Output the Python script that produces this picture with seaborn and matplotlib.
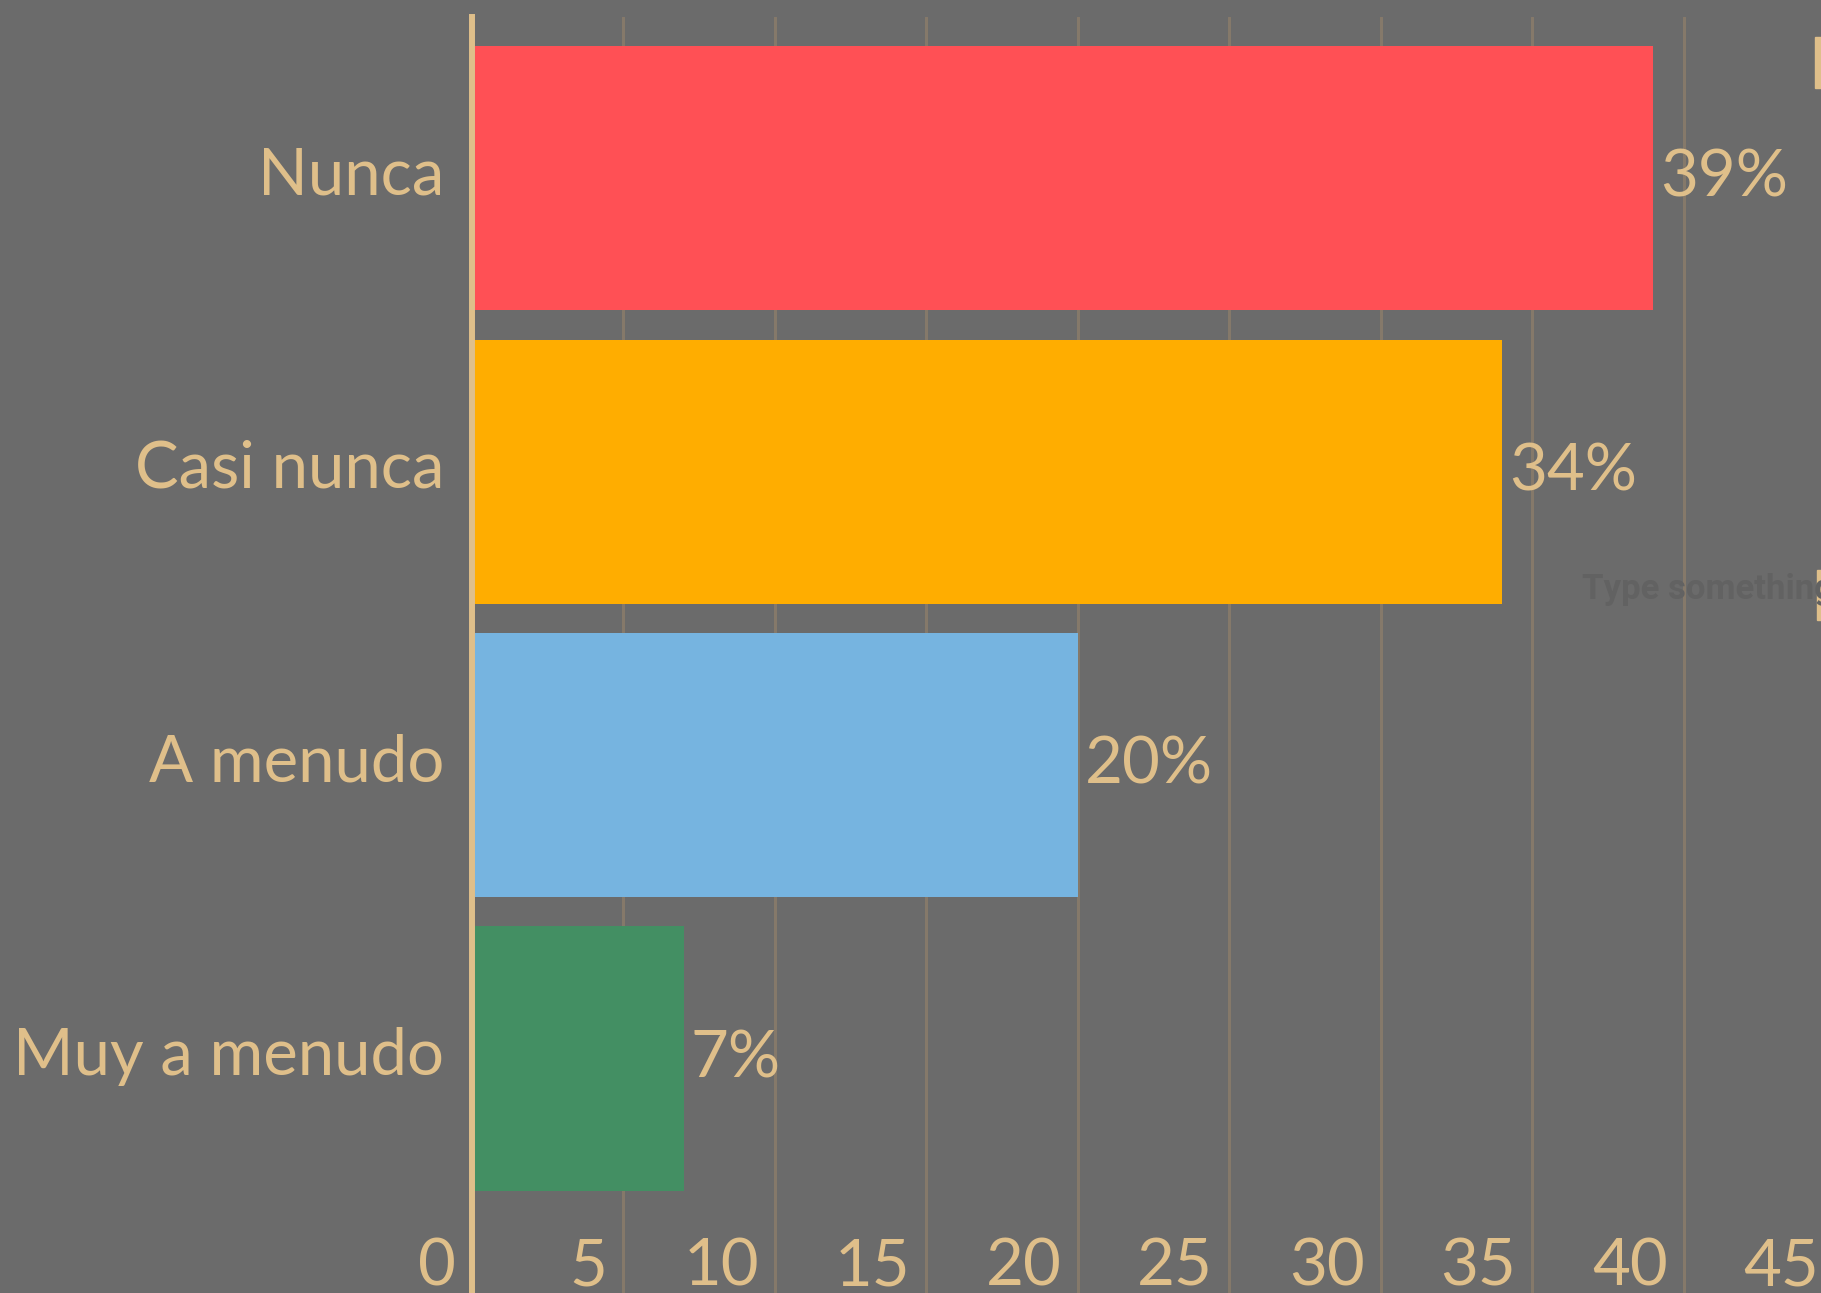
import matplotlib
matplotlib.use("Agg")
import matplotlib.pyplot as plt
from matplotlib.transforms import ScaledTranslation
from matplotlib.patches import Rectangle
import seaborn as sns
import pandas as pd

categories = ["Nunca", "Casi nunca", "A menudo", "Muy a menudo"]
values = [39, 34, 20, 7]
colors = ["#ff5055", "#ffad00", "#76b4e0", "#438f63"]
xticks = [0, 5, 10, 15, 20, 25, 30, 35, 40, 45]

BG = "#6b6b6b"
TAN = "#dfbf8a"
GRID = "#85796a"

sns.set_theme(style="white")
plt.rcParams["font.family"] = ["Lato", "DejaVu Sans"]

df = pd.DataFrame({"cat": categories, "val": values})

W, H = 1821, 1293
fig = plt.figure(figsize=(W / 100, H / 100), dpi=100, facecolor=BG)
ax_left = 472 / W
ax_width = (1835 - 472) / W
ax_top = 1 - 17 / H
ax = fig.add_axes([ax_left, 0, ax_width, ax_top])
ax.set_facecolor(BG)

sns.barplot(data=df, y="cat", x="val", hue="cat", palette=colors,
            order=categories, hue_order=categories, width=0.9,
            saturation=1, legend=False, ax=ax, zorder=3, linewidth=0,
            edgecolor="none")

ax.set_xlim(0, 45)
ax.set_ylim(3.799, -0.549)
ax.set_xticks(xticks)
ax.set_xticklabels([str(t) for t in xticks])
ax.set_xlabel("")
ax.set_ylabel("")

for s in ["top", "right", "bottom"]:
    ax.spines[s].set_visible(False)
ax.spines["left"].set_color(TAN)
ax.spines["left"].set_linewidth(4.3)
ax.spines["left"].set_zorder(4)

ax.grid(axis="x", color=GRID, linewidth=2.2, zorder=0)
ax.grid(axis="y", visible=False)
ax.set_axisbelow(True)

FS = 47
ax.tick_params(axis="y", length=0, pad=20, labelsize=FS, labelcolor=TAN)
ax.tick_params(axis="x", length=0, pad=-40, labelsize=FS, labelcolor=TAN)
offx = ScaledTranslation(-0.16, 0, fig.dpi_scale_trans)
for lab in ax.get_xticklabels():
    lab.set_horizontalalignment("right")
    lab.set_transform(lab.get_transform() + offx)
offy = ScaledTranslation(0, 0.08, fig.dpi_scale_trans)
for lab in ax.get_yticklabels():
    lab.set_transform(lab.get_transform() + offy)

for cont in ax.containers:
    ax.bar_label(cont, fmt="%d%%", padding=5, color=TAN, fontsize=FS)

fig.text(1582 / W, 1 - 590 / H, "Type something", color="#626262",
         fontsize=25, fontweight="bold", family="Roboto", va="center", ha="left")
fig.patches.append(Rectangle((1815 / W, 1 - 88 / H), 6 / W, 51 / H,
                             transform=fig.transFigure, color=TAN))
fig.patches.append(Rectangle((1817 / W, 1 - 620 / H), 4 / W, 50 / H,
                             transform=fig.transFigure, color=TAN))

fig.savefig("out.png", dpi=100, facecolor=BG)
